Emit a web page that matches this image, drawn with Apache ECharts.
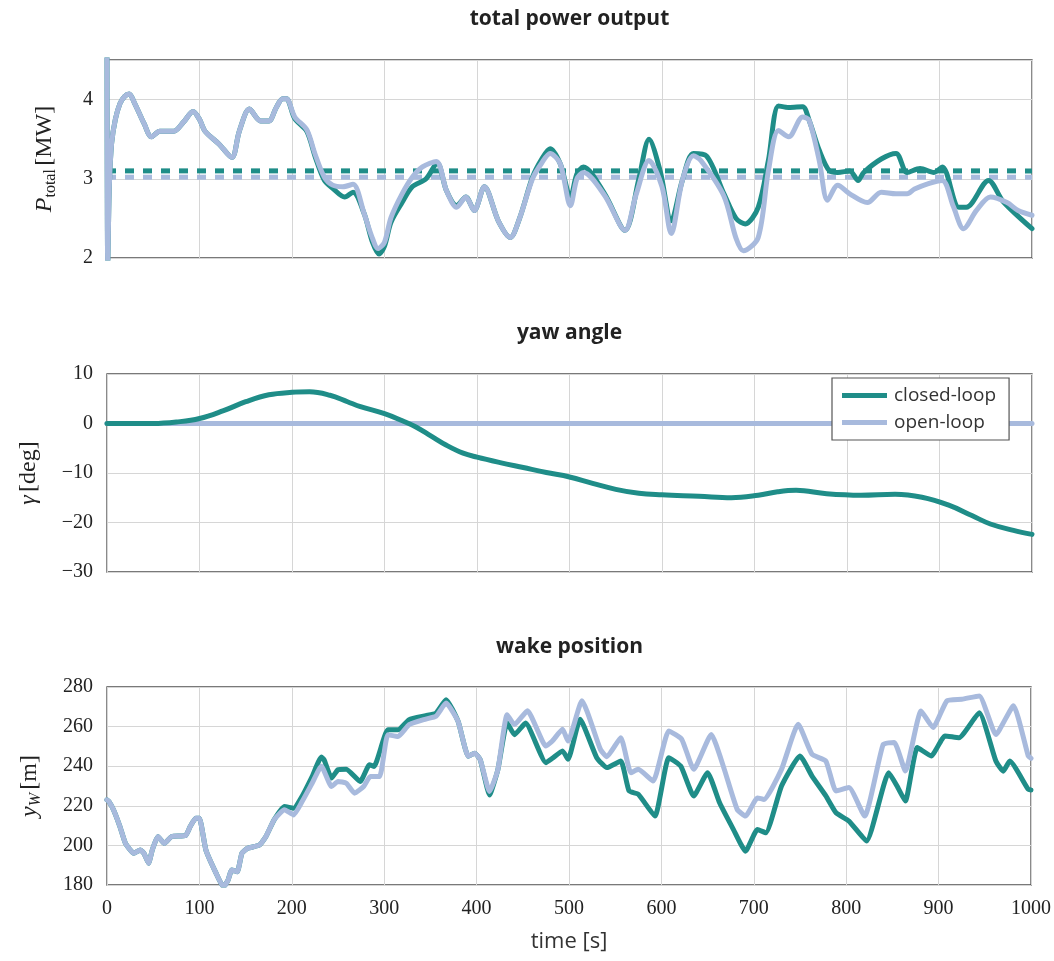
<!DOCTYPE html>
<html>
<head>
<meta charset="utf-8">
<script src="https://cdn.jsdelivr.net/npm/echarts@6/dist/echarts.min.js"></script>
<style>
  html, body { margin: 0; padding: 0; background: #fff; }
  #chart { width: 1054px; height: 961px; }
</style>
</head>
<body>
<div id="chart"></div>
<script>
// ---- total power output [MW] ----
const powerOpenT = [0, 0.8, 2.5, 5, 9, 14, 19, 24, 30, 40, 48, 57, 72, 83, 93, 100, 106, 121, 135, 143, 154, 166, 175, 183, 190, 194, 203, 216, 225, 235, 244, 255, 266, 278, 286, 293, 300, 307, 319, 330, 341, 356, 367, 378, 388, 397, 408, 423, 436, 446, 460, 470, 479, 490, 501, 508, 515, 538, 560, 572, 586, 600, 610, 622, 634, 642, 667, 680, 688, 704, 715, 726, 737, 752, 759, 770, 779, 790, 803, 822, 837, 853, 865, 873, 888, 903, 915, 926, 940, 955, 973, 985, 1000];
const powerOpen  = [4.7, 1.9, 2.9, 3.45, 3.75, 3.95, 4.04, 4.07, 3.95, 3.7, 3.53, 3.6, 3.6, 3.72, 3.85, 3.75, 3.6, 3.44, 3.27, 3.6, 3.88, 3.73, 3.73, 3.9, 4.01, 4.01, 3.78, 3.62, 3.31, 3.02, 2.92, 2.9, 2.93, 2.56, 2.28, 2.12, 2.2, 2.51, 2.81, 3.02, 3.15, 3.22, 2.85, 2.64, 2.77, 2.6, 2.9, 2.47, 2.26, 2.5, 3.0, 3.2, 3.32, 3.19, 2.66, 3.0, 3.08, 2.79, 2.35, 2.8, 3.23, 2.9, 2.31, 2.98, 3.29, 3.23, 2.78, 2.25, 2.09, 2.26, 3.1, 3.61, 3.53, 3.78, 3.74, 3.23, 2.73, 2.92, 2.81, 2.7, 2.83, 2.81, 2.81, 2.87, 2.94, 2.98, 2.65, 2.37, 2.6, 2.77, 2.7, 2.6, 2.54];
const powerClosedT = [0, 0.8, 2.5, 5, 9, 14, 19, 24, 30, 40, 48, 57, 72, 83, 93, 100, 106, 121, 135, 143, 154, 166, 175, 183, 190, 194, 203, 216, 225, 235, 244, 257, 266, 278, 287, 294, 300, 307, 319, 330, 345, 357, 367, 378, 388, 397, 408, 423, 436, 446, 460, 470, 479, 490, 501, 508, 515, 538, 560, 575, 586, 598, 610, 622, 634, 648, 667, 680, 690, 704, 715, 726, 737, 752, 759, 770, 781, 790, 803, 812, 818, 837, 853, 865, 879, 894, 903, 921, 929, 953, 969, 1000];
const powerClosed  = [4.7, 1.9, 2.9, 3.45, 3.75, 3.95, 4.04, 4.07, 3.95, 3.7, 3.53, 3.6, 3.6, 3.72, 3.85, 3.75, 3.6, 3.44, 3.27, 3.6, 3.88, 3.73, 3.73, 3.9, 4.01, 4.01, 3.76, 3.6, 3.28, 2.98, 2.88, 2.77, 2.83, 2.56, 2.2, 2.05, 2.15, 2.45, 2.7, 2.9, 3.0, 3.2, 2.85, 2.66, 2.77, 2.6, 2.9, 2.47, 2.26, 2.5, 3.02, 3.25, 3.38, 3.19, 2.77, 3.06, 3.15, 2.81, 2.35, 3.0, 3.5, 3.1, 2.47, 2.98, 3.32, 3.29, 2.81, 2.5, 2.43, 2.64, 3.23, 3.92, 3.9, 3.91, 3.74, 3.36, 3.1, 3.08, 3.1, 2.98, 3.08, 3.25, 3.32, 3.08, 3.13, 3.08, 3.15, 2.64, 2.64, 2.98, 2.71, 2.37];
const powerMeanClosed = 3.1;
const powerMeanOpen = 3.02;

// ---- yaw angle [deg] ----
const yawClosedT = [0, 50, 75, 100, 126, 150, 175, 200, 219, 241, 260, 274, 300, 320, 334, 350, 367, 385, 400, 425, 450, 475, 500, 525, 550, 575, 600, 640, 675, 704, 725, 745, 778, 815, 852, 881, 910, 935, 955, 980, 1000];
const yawClosed  = [0, 0, 0.3, 1.0, 2.6, 4.4, 5.8, 6.3, 6.4, 5.7, 4.4, 3.4, 2.0, 0.5, -0.7, -2.5, -4.4, -6.0, -6.8, -7.9, -8.9, -9.9, -10.8, -12.1, -13.3, -14.1, -14.4, -14.7, -15.0, -14.5, -13.8, -13.5, -14.2, -14.5, -14.3, -14.9, -16.5, -18.6, -20.3, -21.6, -22.4];
const yawOpenT = [0, 1000];
const yawOpen  = [0, 0];

// ---- wake position [m] ----
const wakeOpenT = [0, 2, 7, 14, 20, 29, 36, 40, 45, 49, 55, 62, 70, 85, 90, 96, 100, 107, 118, 126, 131, 135, 141, 146, 152, 165, 172, 181, 192, 202, 211, 222, 232, 243, 250, 259, 268, 278, 285, 295, 304, 315, 327, 345, 356, 367, 380, 391, 398, 404, 414, 423, 433, 441, 455, 475, 482, 493, 499, 514, 534, 541, 556, 567, 575, 591, 608, 622, 635, 654, 667, 682, 691, 704, 711, 730, 748, 763, 778, 789, 803, 820, 840, 852, 864, 881, 894, 909, 925, 944, 962, 981, 997, 1000];
const wakeOpen  = [223, 222.2, 218, 209.5, 201, 196, 197.7, 196, 191, 197.7, 204.5, 201, 204.5, 205, 209.5, 213.7, 213.7, 197.7, 186, 179, 182.5, 187.6, 186.7, 196, 198.5, 200.2, 204.5, 213, 218, 215.4, 222, 231.4, 240, 229.7, 232.3, 231.4, 226.4, 229.9, 234.8, 234.8, 255.9, 255, 261, 263.8, 265.2, 271.9, 262.6, 245, 246.6, 243.2, 227.2, 238.2, 266, 261, 268, 250.2, 252.7, 258.6, 252.7, 273, 248.5, 244.8, 254.4, 236.7, 238.4, 232.5, 257.8, 253.6, 238.4, 256, 240, 218.2, 214.8, 224, 223.2, 238.4, 261.2, 246, 242.6, 227.5, 229.2, 214.8, 251, 252, 237.6, 267.9, 259.5, 273, 273.8, 275.5, 256, 270.5, 245.2, 244];
const wakeClosedT = [0, 2, 7, 14, 20, 29, 36, 40, 45, 49, 55, 62, 70, 85, 90, 96, 100, 107, 118, 126, 131, 135, 141, 146, 152, 165, 172, 181, 192, 202, 211, 222, 232, 235, 243, 250, 259, 274, 284, 289, 304, 315, 327, 345, 356, 367, 380, 391, 398, 404, 414, 423, 433, 441, 453, 475, 482, 493, 499, 512, 530, 541, 556, 565, 575, 593, 608, 621, 635, 650, 663, 678, 691, 704, 713, 730, 750, 763, 778, 789, 803, 822, 846, 855, 864, 877, 892, 907, 922, 944, 962, 970, 977, 997, 1000];
const wakeClosed  = [223, 222.2, 218, 209.5, 201, 196, 197.7, 196, 191, 197.7, 204.5, 201, 204.5, 205, 209.5, 213.7, 213.7, 197.7, 186, 179, 182.5, 187.6, 186.7, 196, 198.5, 200.2, 204.5, 213, 219.6, 218.8, 224.7, 234.8, 244.6, 243.2, 234, 238.2, 238.5, 232.3, 240.7, 239.9, 258.4, 258.4, 263.5, 265.5, 266.8, 273.6, 262.6, 245, 246.6, 243.2, 225.5, 238.2, 262, 255.9, 261.8, 241.8, 244, 247.7, 243.5, 263.7, 244.3, 239.3, 242.6, 227.5, 225.8, 214.8, 244.3, 240, 225, 236.7, 221.5, 208, 197.1, 208, 206.4, 230, 245.2, 235, 225, 216.5, 212.3, 202.2, 236.7, 230, 222.4, 249.4, 245.2, 255.3, 254.4, 267, 242.6, 237.5, 242.6, 228.3, 228];

// ---- axes ----
const timeTicks = { min: 0, max: 1000, interval: 100 };
const powerTicks = { min: 2, max: 4.5, interval: 1 };
const yawTicks = { min: -30, max: 10, interval: 10 };
const wakeTicks = { min: 180, max: 280, interval: 20 };

const TEAL = '#1f8d88';
const BLUE = '#a8badd';
const GRID_TOPS = [60, 374, 687];
const PLOT_LEFT = 107, PLOT_RIGHT = 22, PLOT_H = 198;

const pairs = (t, v) => t.map((x, i) => [x, v[i]]);
const serifLabel = {
  fontFamily: '"Liberation Serif", serif', fontSize: 20, color: '#222', margin: 14,
  formatter: v => Number.isInteger(v) ? String(v).replace('-', '\u2212') : ''
};

const grids = GRID_TOPS.map(top => ({
  left: PLOT_LEFT, right: PLOT_RIGHT, top: top, height: PLOT_H,
  show: true, borderColor: '#4d4d4d', borderWidth: 1.3, backgroundColor: 'transparent'
}));

const xAxes = [0, 1, 2].map(i => Object.assign({
  type: 'value', gridIndex: i,
  axisLine: { show: false }, axisTick: { show: false },
  splitLine: { show: true, lineStyle: { color: '#d6d6d6', width: 1 } },
  axisLabel: Object.assign({}, serifLabel, { show: i === 2 }),
  name: i === 2 ? 'time [s]' : '',
  nameLocation: 'middle', nameGap: 46,
  nameTextStyle: { fontFamily: '"Open Sans", sans-serif', fontSize: 22, color: '#333' }
}, timeTicks));

const yNameRich = {
  i: { fontFamily: '"Liberation Serif", serif', fontStyle: 'italic', fontSize: 24, color: '#222' },
  r: { fontFamily: '"Liberation Serif", serif', fontSize: 24, color: '#222' },
  s: { fontFamily: '"Liberation Serif", serif', fontSize: 16, color: '#222', padding: [12, 0, 0, 0] },
  si: { fontFamily: '"Liberation Serif", serif', fontStyle: 'italic', fontSize: 16, color: '#222', padding: [12, 0, 0, 0] }
};

const yAxes = [
  Object.assign({ name: '{i|P}{s|total} {r|[MW]}', nameGap: 48 }, powerTicks),
  Object.assign({ name: '{i|\u03b3} {r|[deg]}', nameGap: 66 }, yawTicks),
  Object.assign({ name: '{i|y}{si|W} {r|[m]}', nameGap: 63 }, wakeTicks)
].map((a, i) => Object.assign({
  type: 'value', gridIndex: i,
  nameLocation: 'middle', nameRotate: 90,
  nameTextStyle: { rich: yNameRich },
  axisLine: { show: false }, axisTick: { show: false },
  splitLine: { show: true, lineStyle: { color: '#d6d6d6', width: 1 } },
  axisLabel: serifLabel
}, a));

function line(name, gi, data, color, width, smooth, extra) {
  return Object.assign({
    type: 'line', name: name, xAxisIndex: gi, yAxisIndex: gi,
    data: data, showSymbol: false, symbol: 'none', smooth: smooth,
    clip: true, color: color,
    itemStyle: { color: color },
    lineStyle: { color: color, width: width, join: 'round', cap: 'round' }
  }, extra || {});
}

const series = [
  // power: means (dashed), closed-loop, open-loop
  line('closed-loop mean', 0, [[0, powerMeanClosed], [1000, powerMeanClosed]], TEAL, 5, false,
       { lineStyle: { color: TEAL, width: 5, type: [9, 9], cap: 'butt' } }),
  line('open-loop mean', 0, [[0, powerMeanOpen], [1000, powerMeanOpen]], BLUE, 5, false,
       { lineStyle: { color: BLUE, width: 5, type: [9, 9], cap: 'butt' } }),
  line('closed-loop', 0, pairs(powerClosedT, powerClosed), TEAL, 5, 0.3),
  line('open-loop', 0, pairs(powerOpenT, powerOpen), BLUE, 5, 0.3),
  // yaw angle
  line('open-loop', 1, pairs(yawOpenT, yawOpen), BLUE, 5, false),
  line('closed-loop', 1, pairs(yawClosedT, yawClosed), TEAL, 5, 0.4),
  // wake position
  line('closed-loop', 2, pairs(wakeClosedT, wakeClosed), TEAL, 5, 0.15),
  line('open-loop', 2, pairs(wakeOpenT, wakeOpen), BLUE, 5, 0.15)
];

const titleFont = 'bold 21px "Open Sans", sans-serif';
const titles = [['total power output', 19], ['yaw angle', 333], ['wake position', 647]];

const chart = echarts.init(document.getElementById('chart'), null, { renderer: 'canvas' });
chart.setOption({
  animation: false,
  backgroundColor: '#fff',
  grid: grids,
  xAxis: xAxes,
  yAxis: yAxes,
  legend: {
    data: ['closed-loop', 'open-loop'],
    orient: 'vertical',
    left: 832, top: 378,
    backgroundColor: '#fff',
    borderColor: '#555', borderWidth: 1.2, borderRadius: 0,
    padding: [8, 13, 8, 10],
    itemGap: 8, itemWidth: 45, itemHeight: 5,
    icon: 'rect',
    textStyle: { fontFamily: '"Open Sans", sans-serif', fontSize: 19, color: '#333', padding: [0, 0, 0, 2] },
    selectedMode: false
  },
  graphic: titles.map(([text, y]) => ({
    type: 'text', x: (PLOT_LEFT + 1054 - PLOT_RIGHT) / 2, y: y,
    style: { text: text, font: titleFont, fill: '#222', textAlign: 'center', textVerticalAlign: 'middle' }
  })),
  series: series
});
</script>
</body>
</html>
